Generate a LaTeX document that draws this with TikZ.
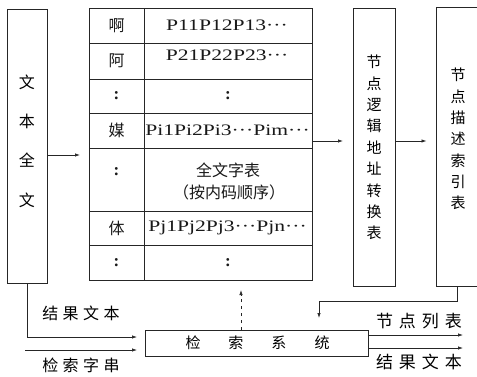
\documentclass[tikz,border=0pt]{standalone}
\usepackage{graphicx}
\usepackage{fontspec}
\setmainfont{Liberation Serif}
\newfontfamily\cjk{Noto Sans CJK SC}
\usetikzlibrary{arrows.meta}
\newcommand{\cjkfs}[2]{\cjk\fontsize{#1}{#2}\selectfont}
\begin{document}
\begin{tikzpicture}[x=1pt,y=-1pt,
  box/.style={draw=black!85, line width=0.8pt, inner sep=0pt, outer sep=0pt},
  cn/.style={font=\cjkfs{16}{16}, inner sep=0pt, text=black!90},
  ptxt/.style={font=\fontsize{16}{16}\selectfont, inner sep=0pt, text=black!90},
  dotc/.style={font=\bfseries\fontsize{17}{17}\selectfont, inner sep=0pt, text=black!90},
  gridl/.style={draw=black!85, line width=0.7pt},
  conn/.style={draw=black!85, line width=0.7pt, -{Latex[length=5pt,width=3.4pt]}},
]
\useasboundingbox (0,0) rectangle (477,376);
\fill[white] (0,0) rectangle (477,376);

% boxes
\node[box, minimum width=40pt, minimum height=274pt] (lb) at (27,146) {};
\node[box, minimum width=223pt, minimum height=272pt] (tbl) at (200.5,144) {};
\node[box, minimum width=42pt, minimum height=278pt] (b2) at (374,147) {};
\node[box, minimum width=42pt, minimum height=279pt] (b3) at (457.5,146.5) {};
\node[box, minimum width=223pt, minimum height=26pt] (sys) at (256.5,343) {};

% box texts
\node[inner sep=0pt, align=center, font=\cjkfs{16}{39.3}] (lbt) at (27,141) {文\\本\\全\\文};
\node[inner sep=0pt, align=center, font=\cjkfs{15}{21.4}] (b2t) at (374,147.5) {节\\点\\逻\\辑\\地\\址\\转\\换\\表};
\node[inner sep=0pt, align=center, font=\cjkfs{15}{21.3}] (b3t) at (458,139) {节\\点\\描\\述\\索\\引\\表};
\node[inner sep=0pt, font=\cjkfs{15}{15}] (syst) at (257.5,343) {检\hspace{28pt}索\hspace{28pt}系\hspace{28pt}统};

% table grid
\draw[gridl] (144,8) -- (144,280);
\foreach \yy in {43,79,113,148,211,245} \draw[gridl] (89,\yy) -- (312,\yy);

% table cells
\node[cn] (c11) at (116.5,25.5) {啊};
\node[ptxt] (c12) at (227,25) {\scalebox{1.35}[1]{P11P12P13···}};
\node[cn] (c21) at (116.5,61) {阿};
\node[ptxt] (c22) at (227,55) {\scalebox{1.35}[1]{P21P22P23···}};
\node[dotc] (c31) at (116.5,96) {:};
\node[dotc] (c32) at (228,96) {:};
\node[cn] (c41) at (116.5,130.5) {媒};
\node[ptxt] (c42) at (227.5,130) {\scalebox{1.35}[1]{Pi1Pi2Pi3···Pim···}};
\node[dotc] (c51) at (116.5,172) {:};
\node[cn] (c52) at (228,170) {全文字表};
\node[cn] (c53) at (229,192) {（按内码顺序）};
\node[cn] (c61) at (116.5,228) {体};
\node[ptxt] (c62) at (227.5,228) {\scalebox{1.35}[1]{Pj1Pj2Pj3···Pjn···}};
\node[dotc] (c71) at (116.5,262.5) {:};
\node[dotc] (c72) at (228,262.5) {:};

% helper coordinates
\coordinate (y155) at (0,155);
\coordinate (y141) at (0,141);
\coordinate (yres) at (0,337);
\coordinate (qin) at (25,350);
\coordinate (kx) at (319,301);
\coordinate (ux) at (241,0);
\coordinate (o1) at (463,335);
\coordinate (o2) at (463,348);

% connectors
\draw[conn, shorten >=9pt] (lb.east |- y155) -- (tbl.west |- y155);
\draw[conn, shorten >=10pt] (tbl.east |- y141) -- (b2.west |- y141);
\draw[conn, shorten >=10pt] (b2.east |- y141) -- (b3.west |- y141);
\draw[conn, shorten >=12pt] (b3.south) |- (kx) -- (kx |- sys.north);
\draw[conn, dashed, dash pattern=on 3pt off 4pt, shorten >=10pt] (sys.north -| ux) -- (tbl.south -| ux);
\draw[conn, shorten >=8pt] (lb.south) |- (sys.west |- yres);
\draw[conn, shorten >=8pt] (qin) -- (sys.west |- qin);
\draw[conn] (sys.east |- o1) -- (o1);
\draw[conn] (sys.east |- o2) -- (o2);

% labels
\node[inner sep=0pt, font=\cjkfs{16}{16}] (l1) at (81,313) {结\kern4.5pt 果\kern4.5pt 文\kern4.5pt 本};
\node[inner sep=0pt, font=\cjkfs{16}{16}] (l2) at (81,365) {检\kern4.5pt 索\kern4.5pt 字\kern4.5pt 串};
\node[inner sep=0pt, font=\cjkfs{17}{17}] (l3) at (419,321) {节\kern6pt 点\kern6pt 列\kern6pt 表};
\node[inner sep=0pt, font=\cjkfs{17}{17}] (l4) at (419,362) {结\kern6pt 果\kern6pt 文\kern6pt 本};
\end{tikzpicture}
\end{document}
